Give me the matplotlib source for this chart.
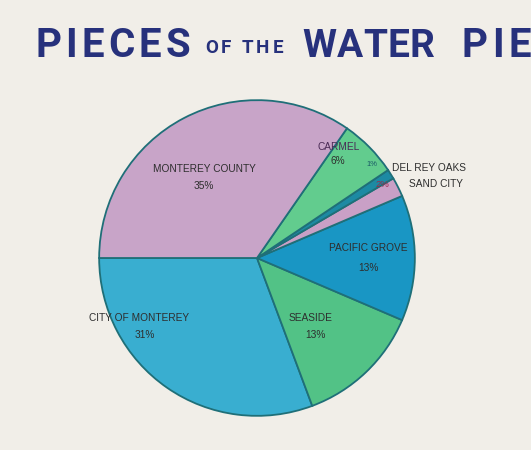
import matplotlib
matplotlib.use("Agg")
import matplotlib.pyplot as plt

categories = ["CITY OF MONTEREY", "SEASIDE", "PACIFIC GROVE", "SAND CITY",
              "DEL REY OAKS", "CARMEL", "MONTEREY COUNTY"]
values = [31, 13, 13, 2, 1, 6, 35]
colors = ["#39aed0", "#52c286", "#1996c4", "#c9a0c6", "#1d8aa3", "#62cc8e", "#c8a4c8"]

W, H = 531, 450
fig = plt.figure(figsize=(W / 100, H / 100), dpi=100)
fig.patch.set_facecolor("#f1eee8")

cx, cy, r = 257, 258, 161
ax = fig.add_axes([(cx - r) / W, (H - cy - r) / H, 2 * r / W, 2 * r / H])
ax.set_facecolor("none")
ax.pie(values, colors=colors, startangle=180, counterclock=True, radius=1,
       wedgeprops=dict(edgecolor="#1f6f78", linewidth=1.3))
ax.set_xlim(-1.02, 1.02)
ax.set_ylim(-1.02, 1.02)
ax.set_aspect("equal")
ax.axis("off")


def P(px, py):
    return ((px - cx) / r, (cy - py) / r)


lab = dict(fontsize=7.3, color="#2e2e2e", family="Liberation Sans", ha="center", va="center")
pct = {c: f"{v}%" for c, v in zip(categories, values)}

pos = {
    "MONTEREY COUNTY": ((203, 167), (203, 185)),
    "CITY OF MONTEREY": ((137, 319), (142, 337)),
    "SEASIDE": ((312, 319), (317, 337)),
    "PACIFIC GROVE": ((370, 248), (371, 268)),
    "CARMEL": ((340, 145), (339, 159)),
}
for c, (p1, p2) in pos.items():
    col = "#4a2a55" if c == "CARMEL" else "#2e2e2e"
    ax.text(*P(*p1), c, **{**lab, "color": col})
    ax.text(*P(*p2), pct[c], **lab)

ax.text(*P(395, 166), "DEL REY OAKS", clip_on=False, **{**lab, "ha": "left"})
ax.text(*P(412, 183), "SAND CITY", clip_on=False, **{**lab, "ha": "left"})
ax.text(*P(385, 183), pct["SAND CITY"], color="#9a2a4a", fontsize=6.8,
        family="Liberation Sans", ha="center", va="center")
ax.text(*P(374, 163), pct["DEL REY OAKS"], color="#1a5a66", fontsize=5.5,
        family="Liberation Sans", ha="center", va="center")

# title, drawn letter by letter to get the wide spacing of the original
tc = "#27317c"
renderer = fig.canvas.get_renderer()


def spaced(word, x0, x1, ybase, size):
    ts = []
    widths = []
    for ch in word:
        t = fig.text(0, 0, ch, fontsize=size, fontweight="bold", color=tc,
                     family="Roboto", va="baseline", ha="left")
        widths.append(t.get_window_extent(renderer).width if ch != " " else size * 0.3)
        ts.append(t)
    total = sum(widths)
    gap = max((x1 - x0 - total) / max(len(word) - 1, 1), 0.5)
    x = x0
    for t, w in zip(ts, widths):
        t.set_position((x / W, 1 - ybase / H))
        x += w + gap


spaced("PIECES", 35, 190, 57, 29)
spaced("OF THE", 205, 283, 53, 13.5)
spaced("WATER", 302, 434, 57, 28)
spaced("PIE", 461, 531, 57, 29)

fig.savefig("out.png", dpi=100, facecolor=fig.get_facecolor())
